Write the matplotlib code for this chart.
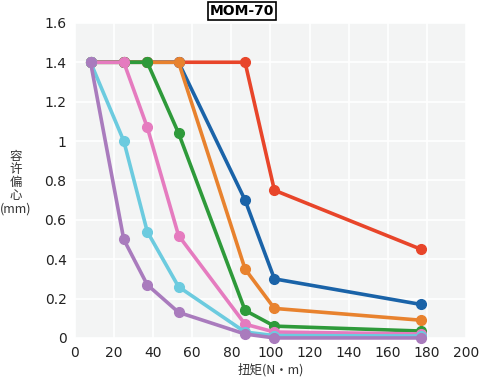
import matplotlib
matplotlib.use("Agg")
import matplotlib.pyplot as plt

plt.rcParams['font.family'] = ['Noto Sans CJK SC', 'DejaVu Sans']

# Drehmoment-Stufen (N·m)
torque = [8, 25, 37, 53, 87, 102, 177]

# zulaessige Exzentrizitaet (mm) je Kurve
red = [1.4, 1.4, 1.4, 1.4, 1.4, 0.75, 0.45]
blue = [1.4, 1.4, 1.4, 1.4, 0.70, 0.30, 0.17]
orange = [1.4, 1.4, 1.4, 1.4, 0.35, 0.15, 0.09]
green = [1.4, 1.4, 1.4, 1.04, 0.14, 0.06, 0.035]
pink = [1.4, 1.4, 1.07, 0.52, 0.07, 0.03, 0.02]
cyan = [1.4, 1.0, 0.54, 0.26, 0.03, 0.012, 0.01]
purple = [1.4, 0.5, 0.27, 0.13, 0.02, 0.0, 0.0]

series = [red, blue, orange, green, pink, cyan, purple]
colors = ["#e8452a", "#1a63a8", "#e8822e", "#2e9a3a", "#e57bbf", "#6ccbdf", "#a97bbd"]

xticks = list(range(0, 201, 20))
yticks = [0, 0.2, 0.4, 0.6, 0.8, 1, 1.2, 1.4, 1.6]
yticklabels = ["0", "0.2", "0.4", "0.6", "0.8", "1", "1.2", "1.4", "1.6"]

fig = plt.figure(figsize=(4.8, 3.81), dpi=100)
ax = fig.add_axes([0.156, 0.113, 0.815, 0.827])
ax.set_facecolor("#f3f4f4")

for vals, c in zip(series, colors):
    ax.plot(torque, vals, color=c, lw=2.6, marker="o", markersize=7, clip_on=False, zorder=3)

ax.set_xlim(0, 200)
ax.set_ylim(0, 1.6)
ax.set_xticks(xticks)
ax.set_yticks(yticks)
ax.set_yticklabels(yticklabels)
ax.grid(True, color="white", lw=1.2)
ax.set_axisbelow(True)
for s in ax.spines.values():
    s.set_visible(False)
ax.tick_params(length=0, labelsize=10, colors="#222222", pad=6)
for lab in ax.get_xticklabels() + ax.get_yticklabels():
    lab.set_family("DejaVu Sans")

ax.set_xlabel("扭矩(N·m)", fontsize=9, color="#333333", labelpad=2)
fig.text(0.033, 0.52, "容\n许\n偏\n心\n(mm)", ha="center", va="center",
         fontsize=9, color="#333333", linespacing=1.0)

fig.text(0.504, 0.972, "MOM-70", ha="center", va="center", fontsize=10,
         fontweight="bold", family="DejaVu Sans",
         bbox=dict(boxstyle="square,pad=0.15", fc="white", ec="black", lw=1.2))

fig.savefig("out.png", dpi=100)
